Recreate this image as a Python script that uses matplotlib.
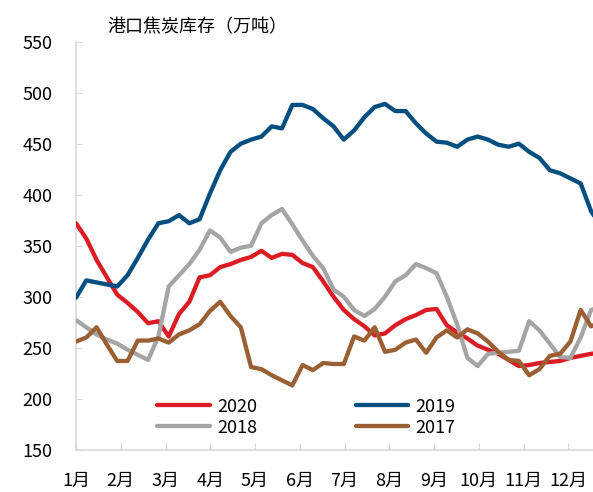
import matplotlib.pyplot as plt
import numpy as np

plt.rcParams['font.family'] = ['Noto Sans CJK SC', 'DejaVu Sans']

# weekly port coke inventory (万吨), week 0 = start of Jan
y2020 = [372, 357, 336, 319, 302, 294, 285, 274, 276, 261, 283, 295, 319, 321, 329, 332,
         336, 339, 345, 338, 342, 341, 333, 329, 315, 300, 287, 278, 271, 262, 264, 272,
         278, 282, 287, 288, 272, 265, 259, 252, 248, 244, 238, 232, 233, 235, 236, 237,
         240, 242, 244, 245]
y2019 = [299, 316, 314, 312, 310, 321, 338, 356, 372, 374, 380, 372, 376, 401, 424, 442,
         450, 454, 457, 467, 465, 488, 488, 484, 475, 467, 454, 463, 476, 486, 489, 482,
         482, 470, 460, 452, 451, 447, 454, 457, 454, 449, 447, 450, 442, 436, 424, 421,
         416, 411, 384, 368]
y2018 = [277, 270, 263, 258, 254, 248, 243, 238, 261, 310, 321, 332, 346, 365, 358, 344,
         348, 350, 372, 380, 386, 371, 355, 340, 328, 307, 300, 287, 281, 288, 300, 315,
         321, 332, 328, 323, 300, 273, 240, 232, 244, 245, 246, 247, 276, 267, 254, 241,
         240, 260, 287, 290]
y2017 = [256, 260, 270, 253, 237, 237, 257, 257, 259, 255, 263, 267, 273, 286, 295, 281,
         270, 231, 229, 223, 218, 213, 233, 228, 235, 234, 234, 261, 257, 270, 246, 248,
         255, 258, 245, 260, 267, 260, 268, 264, 256, 246, 238, 237, 223, 229, 242, 244,
         256, 287, 271, 275]
months = ['1月', '2月', '3月', '4月', '5月', '6月', '7月', '8月', '9月', '10月', '11月', '12月']

weeks = np.arange(len(y2020))

fig = plt.figure(figsize=(5.93, 4.92), dpi=100)
ax = fig.add_axes([76 / 593, 1 - 449.7 / 492, 1 - 76 / 593, (449.7 - 41.7) / 492])

lw = 3.1
l20, = ax.plot(weeks, y2020, color='#DC1C24', lw=lw, label='2020', solid_capstyle='round')
l19, = ax.plot(weeks, y2019, color='#044F80', lw=lw, label='2019', solid_capstyle='round')
l18, = ax.plot(weeks, y2018, color='#A5A5A5', lw=lw, label='2018', solid_capstyle='round')
l17, = ax.plot(weeks, y2017, color='#9A5F32', lw=lw, label='2017', solid_capstyle='round')

ax.set_xlim(0, (593 - 76) / 10.3)
ax.set_ylim(150, 550)
ax.set_yticks(range(150, 551, 50))
ax.set_xticks([i * 365 / 12 / 7 for i in range(12)])
ax.set_xticklabels(months)

for s in ['top', 'right']:
    ax.spines[s].set_visible(False)
for s in ['left', 'bottom']:
    ax.spines[s].set_color('#D9D9D9')
    ax.spines[s].set_linewidth(1.2)
    ax.spines[s].set_zorder(0.5)

ax.tick_params(axis='y', direction='in', length=4, color='#D9D9D9', labelsize=13, pad=17)
ax.tick_params(axis='x', direction='in', length=5, color='#D9D9D9', labelsize=13, pad=16)

ax.legend([l20, l18, l19, l17], ['2020', '2018', '2019', '2017'], ncol=2, frameon=False,
          fontsize=13, handlelength=2.9, handletextpad=0.4, columnspacing=5.45,
          labelspacing=0.15, loc='upper left', bbox_to_anchor=(0.126, 0.167))

fig.text(107 / 593, 1 - 27 / 492, '港口焦炭库存（万吨）', fontsize=13, va='center', ha='left')

fig.savefig('out.png', dpi=100)
